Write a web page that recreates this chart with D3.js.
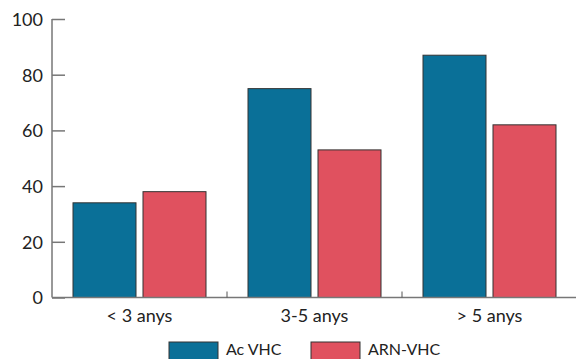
<!DOCTYPE html>
<html><head><meta charset="utf-8">
<script src="https://cdn.jsdelivr.net/npm/d3@7"></script>
<style>html,body{margin:0;padding:0;background:#fff;}svg{display:block;font-family:Lato,"Noto Sans",sans-serif;}</style>
</head><body>
<script>
const categories = ["< 3 anys", "3-5 anys", "> 5 anys"];
const seriesNames = ["Ac VHC", "ARN-VHC"];
const acVHC = [34, 75, 87];
const arnVHC = [38, 53, 62];
const yTicks = [0, 20, 40, 60, 80, 100];
const colors = ["#0a7098", "#e0515f"];

const W = 576, H = 359;
const svg = d3.select("body").append("svg").attr("width", W).attr("height", H);
const x0 = d3.scaleBand().domain(categories).range([52, 577]).paddingInner(0).paddingOuter(0);
const x1 = d3.scaleBand().domain(seriesNames).range([21, 175 - 21]).paddingInner(0.1);
const y = d3.scaleLinear().domain([0, 100]).range([297.5, 19]);

const data = categories.map((c, i) => ({cat: c, vals: [acVHC[i], arnVHC[i]]}));

// bars
const g = svg.append("g");
data.forEach(d => {
  d.vals.forEach((v, j) => {
    g.append("rect")
      .attr("x", x0(d.cat) + x1(seriesNames[j]))
      .attr("y", y(v))
      .attr("width", x1.bandwidth())
      .attr("height", y(0) - y(v))
      .attr("fill", colors[j])
      .attr("stroke", "#333")
      .attr("stroke-width", 1);
  });
});

// y axis
const yAxis = svg.append("g").attr("transform", "translate(52,0)")
  .call(d3.axisRight(y).tickValues(yTicks).tickSize(13).tickFormat(d3.format("d")));
yAxis.select(".domain").attr("stroke", "#333").attr("d", `M0,${y(100)}V${y(0)}`);
yAxis.selectAll(".tick line").attr("stroke", "#777").attr("stroke-width", 1.5);
yAxis.selectAll(".tick text").attr("x", -9).attr("text-anchor", "end").attr("dy", "0.35em")
  .attr("fill", "#222").style("font-size", "18px").style("font-family", "Lato");

// x axis
const xAxis = svg.append("g").attr("transform", `translate(0,${y(0)})`);
xAxis.append("line").attr("x1", 52).attr("x2", 576).attr("y1", 0).attr("y2", 0)
  .attr("stroke", "#777").attr("stroke-width", 1.5);
categories.slice(1).forEach(c => {
  xAxis.append("line").attr("x1", x0(c)).attr("x2", x0(c)).attr("y1", 0).attr("y2", -6)
    .attr("stroke", "#555").attr("stroke-width", 1);
});
categories.forEach(c => {
  xAxis.append("text").attr("x", x0(c) + x0.bandwidth() / 2).attr("y", 24.5)
    .attr("text-anchor", "middle").attr("fill", "#222")
    .style("font-size", "18px").style("font-family", "Lato").text(c);
});

// legend
const legX = [169, 311];
seriesNames.forEach((s, j) => {
  svg.append("rect").attr("x", legX[j]).attr("y", 342).attr("width", 49).attr("height", 20)
    .attr("fill", colors[j]).attr("stroke", "#333").attr("stroke-width", 1);
  svg.append("text").attr("x", legX[j] + 57).attr("y", 355).attr("fill", "#222")
    .style("font-size", "16px").style("font-family", "Lato").text(s);
});
</script>
</body></html>
